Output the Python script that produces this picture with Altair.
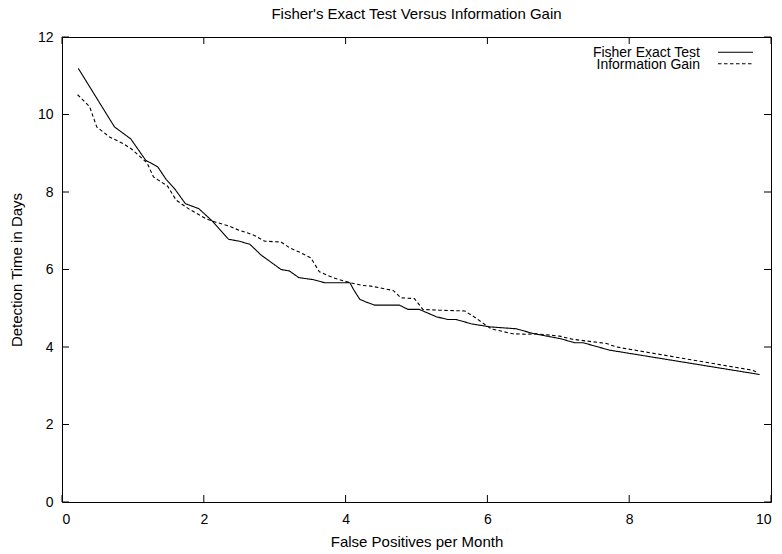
import altair as alt
import pandas as pd

# Axis tick positions
x_ticks = [0, 2, 4, 6, 8, 10]
y_ticks = [0, 2, 4, 6, 8, 10, 12]

# Fisher's exact test: false positives per month vs. detection time (days)
fisher_x = [0.23, 0.74, 0.97, 1.18, 1.35, 1.47, 1.59, 1.74, 1.93, 2.12, 2.35, 2.50,
            2.65, 2.81, 3.09, 3.21, 3.34, 3.54, 3.70, 4.06, 4.11, 4.20, 4.29, 4.41,
            4.76, 4.88, 5.04, 5.28, 5.44, 5.56, 5.77, 6.03, 6.41, 6.64, 7.04, 7.23,
            7.35, 7.72, 9.84]
fisher_y = [11.19, 9.68, 9.37, 8.82, 8.65, 8.32, 8.08, 7.70, 7.57, 7.25, 6.78, 6.73,
            6.65, 6.37, 6.00, 5.96, 5.79, 5.74, 5.66, 5.66, 5.49, 5.23, 5.16, 5.08,
            5.08, 4.97, 4.97, 4.78, 4.71, 4.71, 4.60, 4.52, 4.47, 4.35, 4.21, 4.11,
            4.11, 3.92, 3.29]

# Information gain
gain_x = [0.22, 0.39, 0.49, 0.67, 0.86, 0.98, 1.20, 1.29, 1.49, 1.61, 1.80, 2.03,
          2.17, 2.36, 2.50, 2.69, 2.86, 3.09, 3.21, 3.37, 3.51, 3.63, 3.82, 4.06,
          4.24, 4.36, 4.67, 4.78, 4.97, 5.09, 5.32, 5.68, 5.82, 6.05, 6.36, 6.55,
          6.69, 7.02, 7.20, 7.68, 7.82, 9.74, 9.79]
gain_y = [10.51, 10.20, 9.68, 9.42, 9.25, 9.11, 8.75, 8.39, 8.15, 7.79, 7.55, 7.31,
          7.22, 7.12, 7.01, 6.90, 6.73, 6.71, 6.56, 6.43, 6.30, 5.94, 5.79, 5.66,
          5.59, 5.57, 5.46, 5.27, 5.25, 4.97, 4.95, 4.93, 4.77, 4.47, 4.34, 4.33,
          4.34, 4.28, 4.20, 4.09, 4.00, 3.40, 3.36]

series_names = ["Fisher Exact Test", "Information Gain"]
series_dash = [[1, 0], [3.5, 2.5]]
chart_title = "Fisher's Exact Test Versus Information Gain"

W, H = 709, 465
FONT = "Liberation Sans"
TICK = 7

curves = pd.concat([
    pd.DataFrame({"series": series_names[0], "fp": fisher_x, "days": fisher_y}),
    pd.DataFrame({"series": series_names[1], "fp": gain_x, "days": gain_y}),
], ignore_index=True)

x_scale = alt.Scale(domain=[0, 10], nice=False, zero=False)
y_scale = alt.Scale(domain=[0, 12], nice=False, zero=False)

x_axis = alt.Axis(values=x_ticks, title="False Positives per Month", grid=False,
                  domain=False, ticks=False, tickSize=0, labelPadding=21,
                  labelBaseline="alphabetic", titleY=44, titleBaseline="alphabetic")
y_axis = alt.Axis(values=y_ticks, title="Detection Time in Days", grid=False,
                  domain=False, ticks=False, tickSize=0, labelPadding=9,
                  titleX=-41, titleBaseline="alphabetic")

X = lambda: alt.X("fp:Q", scale=x_scale, axis=x_axis)
Y = lambda: alt.Y("days:Q", scale=y_scale, axis=y_axis)

lines = alt.Chart(curves).mark_line(color="black", strokeWidth=1.1).encode(
    x=X(),
    y=Y(),
    strokeDash=alt.StrokeDash(
        "series:N",
        scale=alt.Scale(domain=series_names, range=series_dash),
        legend=None,
    ),
)

# Inward tick marks on all four sides of the frame
xt = pd.DataFrame({"fp": x_ticks})
yt = pd.DataFrame({"days": y_ticks})
tick_bottom = alt.Chart(xt).mark_rule(color="black").encode(
    x=X(), y=alt.value(H), y2=alt.value(H - TICK))
tick_top = alt.Chart(xt).mark_rule(color="black").encode(
    x=X(), y=alt.value(0), y2=alt.value(TICK))
tick_left = alt.Chart(yt).mark_rule(color="black").encode(
    y=Y(), x=alt.value(0), x2=alt.value(TICK))
tick_right = alt.Chart(yt).mark_rule(color="black").encode(
    y=Y(), x=alt.value(W), x2=alt.value(W - TICK))

one = pd.DataFrame({"k": [0]})

# Title above the frame
title = alt.Chart(one).mark_text(
    align="center", baseline="alphabetic", font=FONT, fontSize=15, color="black"
).encode(x=alt.value(W / 2), y=alt.value(-18.5), text=alt.value(chart_title))

# Key in the upper-right corner: label on the left, line sample on the right
key_text_x = 638
key_line_x1, key_line_x2 = 656, 691
KEY_STEP = 11.5
key = []
for i, (name, dash) in enumerate(zip(series_names, series_dash)):
    key.append(alt.Chart(one).mark_text(
        align="right", baseline="alphabetic", font=FONT, fontSize=14, color="black"
    ).encode(x=alt.value(key_text_x), y=alt.value(20.2 + KEY_STEP * i), text=alt.value(name)))
    key.append(alt.Chart(one).mark_rule(color="black", strokeWidth=1.1, strokeDash=dash).encode(
        x=alt.value(key_line_x1), x2=alt.value(key_line_x2), y=alt.value(15.2 + KEY_STEP * i)))

chart = alt.layer(
    lines, tick_bottom, tick_top, tick_left, tick_right, title, *key
).properties(
    width=W,
    height=H,
    background="white",
    autosize=alt.AutoSizeParams(type="none"),
    padding={"left": 62, "top": 37, "right": 11, "bottom": 52},
).configure_view(
    stroke="black", strokeWidth=1
).configure_axis(
    labelFont=FONT, labelFontSize=14, labelColor="black",
    titleFont=FONT, titleFontSize=15, titleFontWeight="normal", titleColor="black",
)

chart.save("out.html", embed_options={"renderer": "svg", "actions": False})
